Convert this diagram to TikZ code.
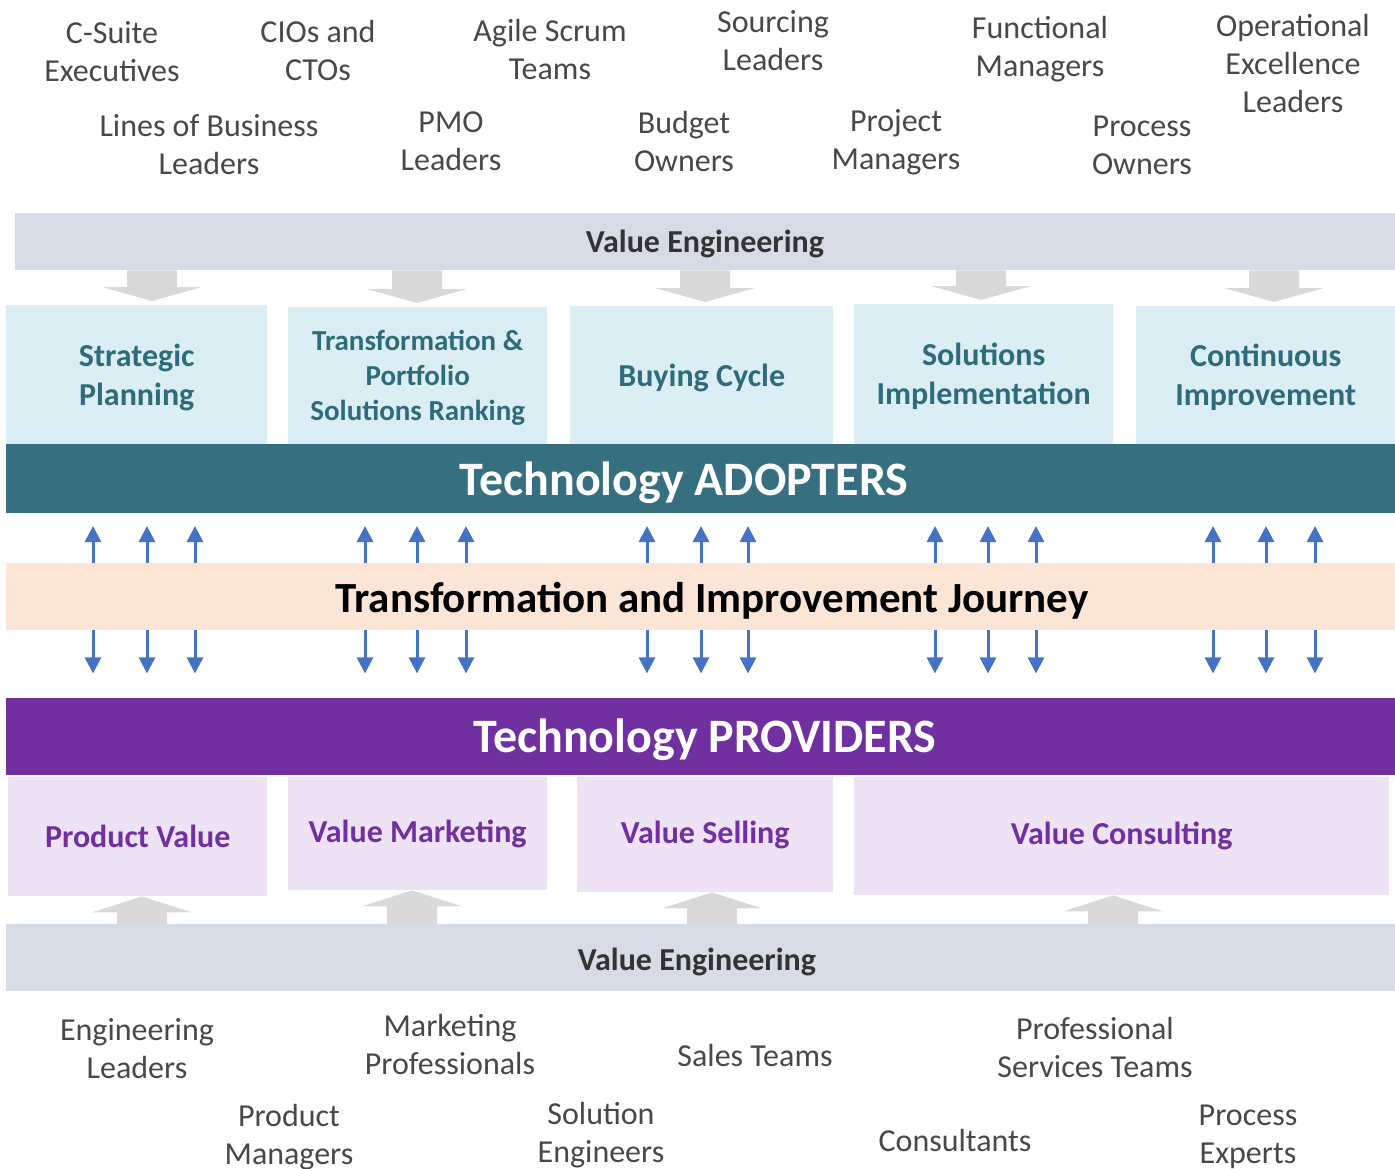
\documentclass[tikz,border=0pt]{standalone}
\usepackage{fontspec}
\setmainfont{Carlito}
\usetikzlibrary{arrows.meta,calc}

\definecolor{bandgray}{RGB}{214,220,229}
\definecolor{blockgray}{RGB}{217,217,217}
\definecolor{adoptbox}{RGB}{218,238,243}
\definecolor{adoptteal}{RGB}{54,112,128}
\definecolor{adopttext}{RGB}{46,108,124}
\definecolor{journeypeach}{RGB}{251,229,214}
\definecolor{arrowblue}{RGB}{68,114,196}
\definecolor{provpurple}{RGB}{112,48,160}
\definecolor{provbox}{RGB}{238,226,245}
\definecolor{labelgray}{RGB}{72,72,72}
\definecolor{vetext}{RGB}{51,51,51}

\tikzset{
  band/.style={anchor=north west, inner sep=0pt},
  vetitle/.style={text=vetext, font=\bfseries\fontsize{32}{38}\selectfont},
  bandtitle/.style={text=white, font=\bfseries\fontsize{48}{54}\selectfont, inner sep=0pt},
  abox/.style={anchor=north west, fill=adoptbox, text=adopttext, align=center, inner sep=0pt,
    text depth=0pt, font=\bfseries\fontsize{32}{39}\selectfont},
  pbox/.style={anchor=north west, fill=provbox, text=provpurple, align=center, inner sep=0pt,
    font=\bfseries\fontsize{32}{39}\selectfont},
  role/.style={text=labelgray, align=center, inner sep=0pt, font=\fontsize{32}{38}\selectfont},
  updown/.style={draw=arrowblue, line width=3pt, -{Triangle[width=16pt,length=16pt]}},
}

\begin{document}
\begin{tikzpicture}[x=1pt, y=-1pt]
\useasboundingbox (0,0) rectangle (1395,1168);

%% adopter roles
\node[role] (csuite) at (112,52) {C-Suite\\Executives};
\node[role] (cios) at (318,51) {CIOs and\\CTOs};
\node[role] (agile) at (550,50) {Agile Scrum\\Teams};
\node[role] (sourcing) at (773,41) {Sourcing\\Leaders};
\node[role] (functional) at (1040,49) {Functional\\Managers};
\node[role] (opex) at (1293,64) {Operational\\Excellence\\Leaders};
\node[role] (lob) at (209,145) {Lines of Business\\Leaders};
\node[role] (pmo) at (451,141) {PMO\\Leaders};
\node[role] (budget) at (684,142) {Budget\\Owners};
\node[role] (pm) at (896,142) {Project\\Managers};
\node[role] (powners) at (1142,145) {Process\\Owners};

%% value engineering (top)
\node[band, fill=bandgray, minimum width=1380, minimum height=57] (vetop) at (15,213) {};
\node[vetitle] (vetoptitle) at (705,244) {Value Engineering};

%% adopter boxes
\node[abox, minimum width=261, minimum height=139] (strategic) at (6,305) {Strategic\\Planning};
\node[abox, minimum width=259, minimum height=137, font=\bfseries\fontsize{29}{35}\selectfont]
  (portfolio) at (288,307) {Transformation \&\\Portfolio\\Solutions Ranking};
\node[abox, minimum width=263, minimum height=138] (buying) at (570,306) {Buying Cycle};
\node[abox, minimum width=259, minimum height=140] (solutions) at (854,304) {Solutions\\Implementation};
\node[abox, minimum width=259, minimum height=138] (continuous) at (1136,306) {Continuous\\Improvement};

%% gray arrows down
\foreach \x/\b in {152/strategic, 417/portfolio, 705/buying, 981/solutions, 1274/continuous}
  \fill[blockgray] (\x-25,0 |- vetop.south) -- (\x+25,0 |- vetop.south)
    -- ($(\x+25,0 |- \b.north)+(0,-18)$) -- ($(\x+50,0 |- \b.north)+(0,-18)$)
    -- ($(\x,0 |- \b.north)+(0,-4)$)
    -- ($(\x-50,0 |- \b.north)+(0,-18)$) -- ($(\x-25,0 |- \b.north)+(0,-18)$) -- cycle;

%% adopters band
\node[band, fill=adoptteal, minimum width=1389, minimum height=69] (adopters) at (6,444) {};
\node[bandtitle] (adopterstitle) at (684,483) {Technology ADOPTERS};

%% journey band
\node[band, fill=journeypeach, minimum width=1389, minimum height=67] (journey) at (6,563) {};
\node[bandtitle, text=black, font=\bfseries\fontsize{43}{48}\selectfont] (journeytitle) at (712,601)
  {Transformation and Improvement Journey};

%% blue arrows
\foreach \x in {93,147,195, 365,417,466, 647,701,748, 935,988,1036, 1213,1266,1315} {
  \draw[updown] (\x,0 |- journey.north) -- ++(0,-37);
  \draw[updown] (\x,0 |- journey.south) -- ++(0,43);
}

%% providers band
\node[band, fill=provpurple, minimum width=1389, minimum height=77] (providers) at (6,698) {};
\node[bandtitle] (providerstitle) at (705,740) {Technology PROVIDERS};

%% provider boxes
\node[pbox, minimum width=259, minimum height=119] (product) at (8,777) {Product Value};
\node[pbox, minimum width=259, minimum height=113] (marketing) at (288,777) {Value Marketing};
\node[pbox, minimum width=256, minimum height=115] (selling) at (577,777) {Value Selling};
\node[pbox, minimum width=535, minimum height=118] (consulting) at (854,777) {Value Consulting};

%% value engineering (bottom)
\node[band, fill=bandgray, minimum width=1389, minimum height=67] (vebot) at (6,924) {};
\node[vetitle] (vebottitle) at (697,962) {Value Engineering};

%% gray arrows up
\foreach \x/\b in {142/product, 412/marketing, 712/selling, 1113/consulting}
  \fill[blockgray] (\x-25,0 |- vebot.north) -- (\x+25,0 |- vebot.north)
    -- ($(\x+25,0 |- \b.south)+(0,16)$) -- ($(\x+50,0 |- \b.south)+(0,16)$)
    -- (\x,0 |- \b.south)
    -- ($(\x-50,0 |- \b.south)+(0,16)$) -- ($(\x-25,0 |- \b.south)+(0,16)$) -- cycle;

%% provider roles
\node[role] (englead) at (137,1049) {Engineering\\Leaders};
\node[role] (prodman) at (289,1137) {Product\\Managers};
\node[role] (marketpro) at (450,1044) {Marketing\\Professionals};
\node[role] (soleng) at (601,1135) {Solution\\Engineers};
\node[role] (sales) at (755,1055) {Sales Teams};
\node[role] (proserv) at (1095,1047) {Professional\\Services Teams};
\node[role] (consultants) at (955,1140) {Consultants};
\node[role] (pexperts) at (1248,1137) {Process\\Experts};
\end{tikzpicture}
\end{document}
